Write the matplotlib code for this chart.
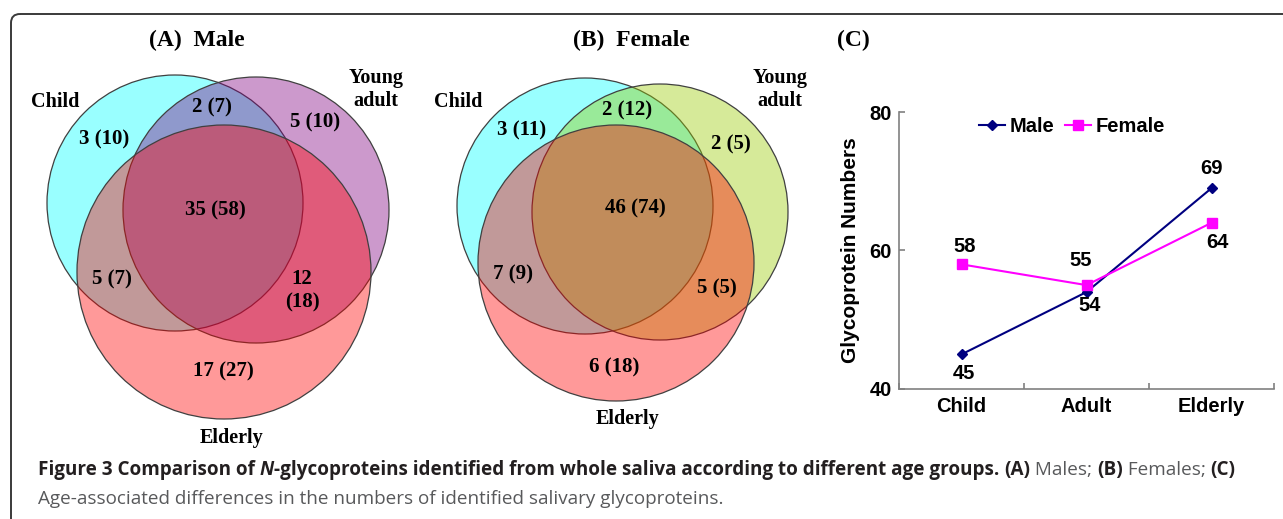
import matplotlib
matplotlib.use("Agg")
import matplotlib.pyplot as plt
from matplotlib.patches import Circle, FancyBboxPatch

# ---- data ----
venn_sets = ["Child", "Young\nadult", "Elderly"]
male_regions = ["3 (10)", "2 (7)", "5 (10)", "35 (58)", "5 (7)", "12\n(18)", "17 (27)"]
female_regions = ["3 (11)", "2 (12)", "2 (5)", "46 (74)", "7 (9)", "5 (5)", "6 (18)"]
groups = ["Child", "Adult", "Elderly"]
male_counts = [45, 54, 69]
female_counts = [58, 55, 64]
yticks = [40, 60, 80]

W, H = 1283, 519
fig = plt.figure(figsize=(W / 100, H / 100), dpi=100)
bg = fig.add_axes([0, 0, 1, 1])
bg.set_xlim(0, W)
bg.set_ylim(H, 0)
bg.axis("off")

# outer rounded frame
bg.add_patch(FancyBboxPatch((11, 14), 1300, 520, boxstyle="round,pad=0,rounding_size=9",
                            fill=False, ec="#3a3a3a", lw=1.4))

serif = "Liberation Serif"


def venn(circles, colors, region_pos, region_txt, label_pos, title, title_pos):
    for (cx, cy, r), col in zip(circles, colors):
        bg.add_patch(Circle((cx, cy), r, fc=col + (0.4,), ec="#404040", lw=0.9))
    for (x, y), s in zip(region_pos, region_txt):
        bg.text(x, y, s, ha="center", va="center", family=serif, weight="bold",
                fontsize=15, linespacing=1.2)
    for (x, y), s in zip(label_pos, venn_sets):
        bg.text(x, y, s, ha="center", va="center", family=serif, weight="bold",
                fontsize=14.5, linespacing=1.2)
    bg.text(title_pos[0], title_pos[1], title, ha="center", va="center", family=serif,
            weight="bold", fontsize=17)


cyan = (0.0, 1.0, 1.0)
red = (1.0, 0.0, 0.0)

# (A) male
venn([(175, 203, 128), (256, 210, 133), (224, 272, 147)],
     [cyan, (0.5, 0.0, 0.5), red],
     [(104, 139), (212, 107), (315, 122), (215, 210), (112, 279), (302, 291), (223, 371)],
     male_regions,
     [(55, 102), (376, 89), (232, 438)],
     "(A)  Male", (197, 40))

# (B) female
venn([(585, 206, 128), (660, 212, 128), (616, 263, 138)],
     [cyan, (0.6, 0.8, 0.0), red],
     [(522, 130), (627, 110), (731, 144), (635, 208), (513, 274), (717, 288), (614, 367)],
     female_regions,
     [(458, 102), (780, 89), (628, 419)],
     "(B)  Female", (631, 40))

bg.text(853, 40, "(C)", ha="center", va="center", family=serif, weight="bold", fontsize=17)

# (C) line chart
sans = "Liberation Sans"
ax = fig.add_axes([899 / W, (H - 389) / H, 375 / W, 277 / H])
xs = [0.5, 1.5, 2.5]
ax.plot(xs, male_counts, color="#000080", marker="D", ms=5, lw=1.5, label="Male")
ax.plot(xs, female_counts, color="#ff00ff", marker="s", ms=6.5, lw=1.5, label="Female")
ax.set_xlim(0, 3)
ax.set_ylim(40, 80)
for sp in ["top", "right"]:
    ax.spines[sp].set_visible(False)
for sp in ["left", "bottom"]:
    ax.spines[sp].set_color("#808080")
    ax.spines[sp].set_linewidth(1.2)
ax.set_xticks([0, 1, 2, 3])
ax.set_xticklabels([])
ax.set_xticks(xs, minor=True)
ax.set_xticklabels(groups, minor=True, family=sans, weight="bold", fontsize=14.5)
ax.tick_params(axis="x", which="minor", length=0, pad=6)
ax.tick_params(axis="x", which="major", direction="in", length=4.5, color="#808080", width=1.2)
ax.set_yticks(yticks)
ax.set_yticklabels([str(v) for v in yticks], family=sans, weight="bold", fontsize=14.5)
ax.tick_params(axis="y", direction="in", length=4.5, color="#808080", width=1.2, pad=5)
ax.set_ylabel("Glycoprotein Numbers", family=sans, weight="bold", fontsize=15, labelpad=7)

male_off = [(2, -14), (2, -10), (0, 14)]
female_off = [(2, 13), (-4, 18), (4, -14)]
for x, v, o in zip(xs, male_counts, male_off):
    ax.annotate(str(v), (x, v), xytext=o, textcoords="offset points", ha="center",
                va="center", family=sans, weight="bold", fontsize=14.5)
for x, v, o in zip(xs, female_counts, female_off):
    ax.annotate(str(v), (x, v), xytext=o, textcoords="offset points", ha="center",
                va="center", family=sans, weight="bold", fontsize=14.5)

ax.legend(loc="center", bbox_to_anchor=(0.461, 0.949), ncol=2, frameon=False,
          prop={"family": sans, "weight": "bold", "size": 14.5},
          handlelength=1.3, handletextpad=0.25, columnspacing=0.5, borderaxespad=0)

# caption, built from runs of mixed weight
cap_font = "Open Sans"
dark, grey = "#231f20", "#58595b"
line1 = [("Figure 3 Comparison of ", "bold", "normal", dark),
         ("N", "bold", "italic", dark),
         ("-glycoproteins identified from whole saliva according to different age groups. ", "bold", "normal", dark),
         ("(A)", "bold", "normal", dark),
         (" Males; ", "normal", "normal", grey),
         ("(B)", "bold", "normal", dark),
         (" Females; ", "normal", "normal", grey),
         ("(C)", "bold", "normal", dark)]
line2 = [("Age-associated differences in the numbers of identified salivary glycoproteins.",
          "normal", "normal", grey)]

renderer = fig.canvas.get_renderer()


def place_runs(runs, x0, y, size):
    x = x0
    for s, wgt, sty, col in runs:
        t = bg.text(x, y, s, ha="left", va="center", family=cap_font, weight=wgt,
                    style=sty, color=col, fontsize=size)
        x += t.get_window_extent(renderer=renderer).width
    return x


# scale the caption so its first line spans the width seen in the figure
probe = place_runs(line1, 0, -100, 12)
size = 12 * 1195 / probe
for t in list(bg.texts)[-len(line1):]:
    t.remove()
place_runs(line1, 38, 470, size)
place_runs(line2, 38, 499, size)

fig.savefig("out.png", dpi=100)
